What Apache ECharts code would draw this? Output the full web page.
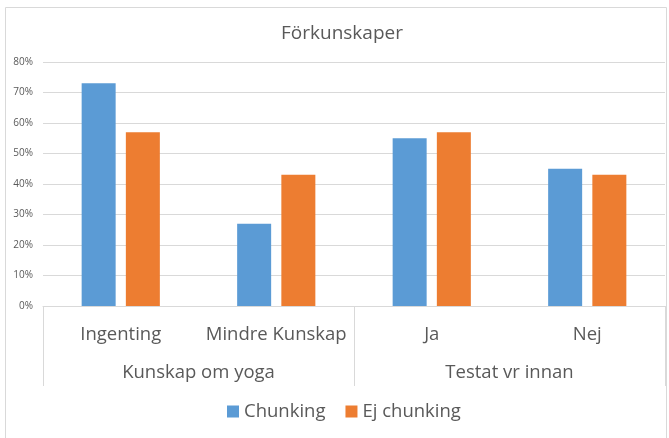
<!DOCTYPE html>
<html>
<head>
<meta charset="utf-8">
<script src="https://cdn.jsdelivr.net/npm/echarts@6/dist/echarts.min.js"></script>
<style>
  html, body { margin: 0; padding: 0; background: #fff; }
  #main { width: 669px; height: 438px; }
</style>
</head>
<body>
<div id="main"></div>
<script>
// data
var categories = ['Ingenting', 'Mindre Kunskap', 'Ja', 'Nej'];
var groups = ['Kunskap om yoga', 'Testat vr innan'];
var chunking = [73, 27, 55, 45];
var ejChunking = [57, 43, 57, 43];

var font = '"Open Sans", "Noto Sans", sans-serif';
var textColor = '#595959';

var chart = echarts.init(document.getElementById('main'));
chart.setOption({
  animation: false,
  color: ['#5B9BD5', '#ED7D31'],
  textStyle: { fontFamily: font },
  title: {
    text: 'Förkunskaper',
    left: 276,
    top: 19,
    textStyle: { fontFamily: font, fontSize: 19, fontWeight: 'normal', color: textColor }
  },
  legend: {
    bottom: 12,
    left: 222,
    itemWidth: 12,
    itemHeight: 12,
    itemGap: 20,
    icon: 'rect',
    textStyle: { fontFamily: font, fontSize: 18.5, color: textColor }
  },
  grid: { left: 43, right: 4, top: 62, bottom: 132 },
  xAxis: [{
    type: 'category',
    data: categories,
    axisLine: { lineStyle: { color: '#D9D9D9' } },
    axisTick: { show: false },
    axisLabel: { interval: 0, margin: 19, fontFamily: font, fontSize: 18.5, color: textColor }
  }, {
    type: 'category',
    data: groups,
    position: 'bottom',
    axisLine: { show: false },
    axisTick: { show: true, length: 80, lineStyle: { color: '#D9D9D9' } },
    axisLabel: { interval: 0, margin: 57, fontFamily: font, fontSize: 18.5, color: textColor }
  }],
  yAxis: {
    type: 'value',
    min: 0,
    max: 80,
    interval: 10,
    axisLine: { show: false },
    axisTick: { show: false },
    splitLine: { lineStyle: { color: '#D9D9D9' } },
    axisLabel: { formatter: '{value}%', fontFamily: font, fontSize: 10, color: textColor, margin: 10 }
  },
  series: [{
    name: 'Chunking',
    type: 'bar',
    data: chunking,
    barWidth: 34,
    barGap: '30%'
  }, {
    name: 'Ej chunking',
    type: 'bar',
    data: ejChunking,
    barWidth: 34
  }],
  graphic: [{
    type: 'rect',
    shape: { x: 5.5, y: 7.5, width: 661, height: 440 },
    style: { fill: null, stroke: '#D9D9D9', lineWidth: 1 },
    silent: true
  }]
});
</script>
</body>
</html>
